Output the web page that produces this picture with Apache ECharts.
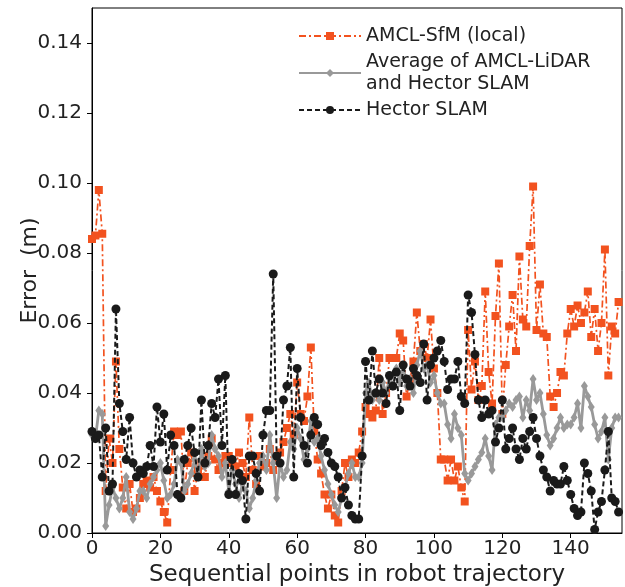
<!DOCTYPE html>
<html>
<head>
<meta charset="utf-8">
<script src="https://cdn.jsdelivr.net/npm/echarts@6/dist/echarts.min.js"></script>
<style>
  html, body { margin: 0; padding: 0; background: #fff; }
  #chart { width: 625px; height: 587px; }
</style>
</head>
<body>
<div id="chart"></div>
<script>
// Localisation error at each sequential trajectory point (metres)
const amclSfm = [
  0.084, 0.085, 0.098, 0.0855, 0.012, 0.027, 0.020, 0.049, 0.024, 0.013,
  0.007, 0.014, 0.006, 0.007, 0.010, 0.014, 0.015, 0.013, 0.016, 0.012,
  0.009, 0.006, 0.003, 0.018, 0.029, 0.028, 0.029, 0.012, 0.020, 0.023,
  0.012, 0.018, 0.020, 0.016, 0.022, 0.027, 0.021, 0.018, 0.020, 0.022,
  0.022, 0.020, 0.019, 0.023, 0.020, 0.016, 0.033, 0.018, 0.014, 0.022,
  0.019, 0.020, 0.024, 0.018, 0.022, 0.023, 0.026, 0.030, 0.034, 0.028,
  0.043, 0.034, 0.032, 0.039, 0.053, 0.029, 0.021, 0.017, 0.011, 0.007,
  0.011, 0.005, 0.003, 0.012, 0.020, 0.016, 0.021, 0.020, 0.023, 0.029,
  0.036, 0.034, 0.033, 0.035, 0.050, 0.034, 0.040, 0.050, 0.050, 0.050,
  0.057, 0.055, 0.039, 0.044, 0.049, 0.063, 0.052, 0.054, 0.050, 0.061,
  0.047, 0.040, 0.021, 0.021, 0.015, 0.021, 0.015, 0.019, 0.013, 0.009,
  0.058, 0.041, 0.049, 0.038, 0.042, 0.069, 0.046, 0.037, 0.062, 0.077,
  0.034, 0.048, 0.059, 0.068, 0.052, 0.079, 0.061, 0.059, 0.082, 0.099,
  0.058, 0.071, 0.057, 0.056, 0.039, 0.036, 0.040, 0.046, 0.045, 0.057,
  0.064, 0.059, 0.065, 0.060, 0.063, 0.069, 0.056, 0.064, 0.052, 0.060,
  0.081, 0.045, 0.059, 0.057, 0.066
];

const avgLidarHector = [
  0.028, 0.027, 0.035, 0.034, 0.002, 0.008, 0.013, 0.010, 0.007, 0.010,
  0.016, 0.006, 0.004, 0.007, 0.012, 0.012, 0.010, 0.014, 0.016, 0.018,
  0.020, 0.015, 0.010, 0.011, 0.014, 0.021, 0.020, 0.012, 0.014, 0.017,
  0.021, 0.016, 0.024, 0.019, 0.020, 0.028, 0.024, 0.022, 0.016, 0.020,
  0.012, 0.018, 0.014, 0.010, 0.014, 0.012, 0.007, 0.010, 0.015, 0.020,
  0.022, 0.018, 0.028, 0.020, 0.010, 0.020, 0.016, 0.018, 0.026, 0.024,
  0.030, 0.027, 0.021, 0.024, 0.032, 0.026, 0.027, 0.022, 0.018, 0.014,
  0.011, 0.008, 0.006, 0.010, 0.013, 0.017, 0.020, 0.016, 0.016, 0.020,
  0.040, 0.043, 0.038, 0.040, 0.038, 0.043, 0.040, 0.044, 0.042, 0.047,
  0.043, 0.048, 0.042, 0.044, 0.040, 0.048, 0.052, 0.047, 0.048, 0.043,
  0.045, 0.040, 0.037, 0.037, 0.031, 0.027, 0.034, 0.030, 0.028, 0.017,
  0.015, 0.017, 0.019, 0.021, 0.023, 0.027, 0.022, 0.018, 0.031, 0.033,
  0.033, 0.035, 0.037, 0.036, 0.038, 0.039, 0.033, 0.038, 0.035, 0.044,
  0.038, 0.040, 0.034, 0.028, 0.025, 0.027, 0.030, 0.033, 0.030, 0.031,
  0.031, 0.033, 0.037, 0.030, 0.042, 0.039, 0.036, 0.031, 0.027, 0.029,
  0.033, 0.021, 0.030, 0.033, 0.033
];

const hectorSlam = [
  0.029, 0.027, 0.028, 0.016, 0.030, 0.012, 0.014, 0.064, 0.037, 0.029,
  0.021, 0.033, 0.020, 0.016, 0.018, 0.017, 0.019, 0.025, 0.019, 0.036,
  0.026, 0.034, 0.018, 0.028, 0.025, 0.011, 0.010, 0.021, 0.025, 0.030,
  0.023, 0.016, 0.038, 0.020, 0.025, 0.037, 0.033, 0.044, 0.025, 0.045,
  0.011, 0.021, 0.011, 0.017, 0.015, 0.004, 0.022, 0.022, 0.017, 0.012,
  0.028, 0.035, 0.035, 0.074, 0.022, 0.020, 0.038, 0.042, 0.053, 0.016,
  0.047, 0.033, 0.025, 0.020, 0.028, 0.033, 0.031, 0.025, 0.027, 0.023,
  0.020, 0.019, 0.016, 0.010, 0.013, 0.008, 0.005, 0.004, 0.004, 0.022,
  0.049, 0.038, 0.052, 0.040, 0.044, 0.040, 0.037, 0.045, 0.042, 0.046,
  0.035, 0.048, 0.044, 0.042, 0.047, 0.045, 0.043, 0.054, 0.038, 0.048,
  0.050, 0.052, 0.055, 0.049, 0.041, 0.044, 0.044, 0.049, 0.039, 0.037,
  0.068, 0.063, 0.051, 0.038, 0.033, 0.038, 0.034, 0.035, 0.026, 0.030,
  0.038, 0.024, 0.027, 0.030, 0.024, 0.021, 0.027, 0.024, 0.029, 0.033,
  0.027, 0.022, 0.018, 0.016, 0.012, 0.015, 0.014, 0.014, 0.019, 0.015,
  0.011, 0.007, 0.005, 0.006, 0.020, 0.017, 0.012, 0.001, 0.006, 0.009,
  0.018, 0.029, 0.010, 0.009, 0.006
];

const seriesNames = [
  'AMCL-SfM (local)',
  'Average of AMCL-LiDAR\nand Hector SLAM',
  'Hector SLAM'
];
const xTicks = [0, 20, 40, 60, 80, 100, 120, 140];
const yTicks = [0.00, 0.02, 0.04, 0.06, 0.08, 0.10, 0.12, 0.14];

const FONT = 'DejaVu Sans';
const toPairs = arr => arr.map((v, i) => [i, v]);

const chart = echarts.init(document.getElementById('chart'), null, { renderer: 'canvas' });

chart.setOption({
  animation: false,
  backgroundColor: '#ffffff',
  grid: {
    left: 92, right: 3, top: 8, bottom: 54,
    outerBoundsMode: 'none', containLabel: false,
    show: true, borderColor: '#000', borderWidth: 1, backgroundColor: 'transparent'
  },
  legend: {
    orient: 'vertical',
    left: 293, top: 20,
    itemWidth: 62, itemHeight: 10, itemGap: 4,
    textStyle: { fontFamily: FONT, fontSize: 19, color: '#222', lineHeight: 22 },
    data: seriesNames
  },
  xAxis: {
    type: 'value', min: 0, max: 155, interval: 20,
    name: 'Sequential points in robot trajectory',
    nameLocation: 'middle', nameGap: 31, nameMoveOverlap: false,
    nameTextStyle: { fontFamily: FONT, fontSize: 23, color: '#222' },
    axisLine: { show: true, lineStyle: { color: '#000', width: 1 } },
    axisTick: { show: true, inside: false, length: 5, lineStyle: { color: '#000' } },
    axisLabel: {
      fontFamily: FONT, fontSize: 20, color: '#222', margin: 6,
      showMaxLabel: false,
      formatter: v => (xTicks.includes(v) ? String(v) : '')
    },
    splitLine: { show: false }
  },
  yAxis: {
    type: 'value', min: 0, max: 0.15, interval: 0.02,
    name: 'Error  (m)',
    nameLocation: 'middle', nameGap: 51, nameMoveOverlap: false,
    nameTextStyle: { fontFamily: FONT, fontSize: 22, color: '#222' },
    axisLine: { show: true, lineStyle: { color: '#000', width: 1 } },
    axisTick: { show: true, inside: false, length: 5, lineStyle: { color: '#000' } },
    axisLabel: {
      fontFamily: FONT, fontSize: 20, color: '#222', margin: 10,
      showMaxLabel: false,
      formatter: v => {
        const t = yTicks.find(k => Math.abs(k - v) < 1e-9);
        return t === undefined ? '' : t.toFixed(2);
      }
    },
    splitLine: { show: false }
  },
  series: [
    {
      name: seriesNames[0], type: 'line', z: 2,
      data: toPairs(amclSfm),
      symbol: 'rect', symbolSize: 8,
      lineStyle: { color: '#f2521f', width: 1.7, type: [7, 3, 2, 3] },
      itemStyle: { color: '#f2521f' }
    },
    {
      name: seriesNames[1], type: 'line', z: 3,
      data: toPairs(avgLidarHector),
      symbol: 'diamond', symbolSize: [7, 10],
      lineStyle: { color: '#999999', width: 2.8, type: 'solid' },
      itemStyle: { color: '#999999' }
    },
    {
      name: seriesNames[2], type: 'line', z: 4,
      data: toPairs(hectorSlam),
      symbol: 'circle', symbolSize: 9,
      lineStyle: { color: '#1a1a1a', width: 2, type: [5, 3] },
      itemStyle: { color: '#1a1a1a' }
    }
  ]
});
</script>
</body>
</html>
